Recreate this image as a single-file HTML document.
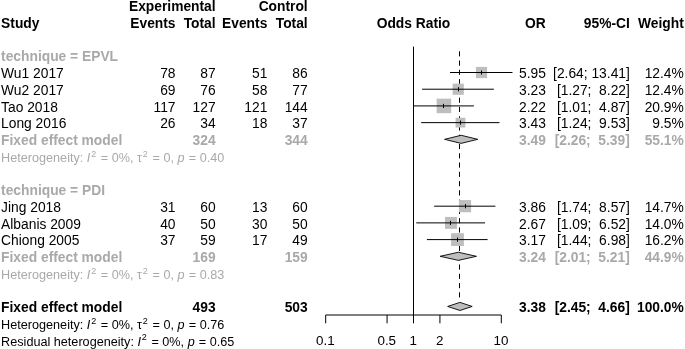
<!DOCTYPE html>
<html><head><meta charset="utf-8"><style>
html,body{margin:0;padding:0;background:#fff;}
body{width:685px;height:349px;position:relative;overflow:hidden;font-family:"Liberation Sans",sans-serif;font-size:13.8px;color:#000;}
.t{position:absolute;white-space:pre;line-height:16.0px;height:16.0px;}
sup{font-size:9px;line-height:0;vertical-align:baseline;position:relative;top:-5.5px;margin:0 1.2px 0 0.8px;}
i.p{margin-right:0.7px;}
svg{position:absolute;left:0;top:0;}
#txt{position:absolute;left:0;top:0;width:685px;height:349px;will-change:transform;}
</style></head><body>
<svg width="685" height="349" viewBox="0 0 685 349">
<line x1="413.5" y1="46.6" x2="413.5" y2="315.0" stroke="#000" stroke-width="1"/>
<line x1="459.5" y1="51.3" x2="459.5" y2="298.5" stroke="#000" stroke-width="1" stroke-dasharray="5.1 4.17"/>
<line x1="325.70" y1="315.0" x2="501.30" y2="315.0" stroke="#000" stroke-width="1"/>
<line x1="325.70" y1="315.0" x2="325.70" y2="323.3" stroke="#000" stroke-width="1"/>
<line x1="387.07" y1="315.0" x2="387.07" y2="323.3" stroke="#000" stroke-width="1"/>
<line x1="413.50" y1="315.0" x2="413.50" y2="323.3" stroke="#000" stroke-width="1"/>
<line x1="439.93" y1="315.0" x2="439.93" y2="323.3" stroke="#000" stroke-width="1"/>
<line x1="501.30" y1="315.0" x2="501.30" y2="323.3" stroke="#000" stroke-width="1"/>
<rect x="475.90" y="66.90" width="11.20" height="11.20" fill="#bebebe"/>
<line x1="450.02" y1="72.50" x2="512.49" y2="72.50" stroke="#000" stroke-width="1"/>
<line x1="481.50" y1="70.40" x2="481.50" y2="74.60" stroke="#000" stroke-width="1"/>
<rect x="452.61" y="83.61" width="11.20" height="11.20" fill="#bebebe"/>
<line x1="422.11" y1="89.21" x2="493.83" y2="89.21" stroke="#000" stroke-width="1"/>
<line x1="458.50" y1="87.11" x2="458.50" y2="91.31" stroke="#000" stroke-width="1"/>
<rect x="436.64" y="98.65" width="14.54" height="14.54" fill="#bebebe"/>
<line x1="413.38" y1="105.92" x2="473.87" y2="105.92" stroke="#000" stroke-width="1"/>
<line x1="443.50" y1="103.82" x2="443.50" y2="108.02" stroke="#000" stroke-width="1"/>
<rect x="455.60" y="117.73" width="9.80" height="9.80" fill="#bebebe"/>
<line x1="421.20" y1="122.63" x2="499.46" y2="122.63" stroke="#000" stroke-width="1"/>
<line x1="460.50" y1="120.53" x2="460.50" y2="124.73" stroke="#000" stroke-width="1"/>
<rect x="458.91" y="200.08" width="12.19" height="12.19" fill="#bebebe"/>
<line x1="434.12" y1="206.18" x2="495.42" y2="206.18" stroke="#000" stroke-width="1"/>
<line x1="465.50" y1="204.08" x2="465.50" y2="208.28" stroke="#000" stroke-width="1"/>
<rect x="445.00" y="216.94" width="11.90" height="11.90" fill="#bebebe"/>
<line x1="416.29" y1="222.89" x2="484.99" y2="222.89" stroke="#000" stroke-width="1"/>
<line x1="450.50" y1="220.79" x2="450.50" y2="224.99" stroke="#000" stroke-width="1"/>
<rect x="451.09" y="233.20" width="12.80" height="12.80" fill="#bebebe"/>
<line x1="426.90" y1="239.60" x2="487.59" y2="239.60" stroke="#000" stroke-width="1"/>
<line x1="457.50" y1="237.50" x2="457.50" y2="241.70" stroke="#000" stroke-width="1"/>
<polygon points="444.59,139.34 461.16,135.29 477.73,139.34 461.16,143.39" fill="#bebebe" stroke="#000" stroke-width="0.9"/>
<polygon points="440.12,256.31 458.33,252.26 476.44,256.31 458.33,260.36" fill="#bebebe" stroke="#000" stroke-width="0.9"/>
<polygon points="447.67,306.44 459.94,302.39 472.18,306.44 459.94,310.49" fill="#bebebe" stroke="#000" stroke-width="0.9"/>
</svg>
<div id="txt">
<div class="t" style="top:-0.68px;right:469.40px;font-weight:bold;">Experimental</div>
<div class="t" style="top:-0.68px;right:377.30px;font-weight:bold;">Control</div>
<div class="t" style="top:16.03px;left:1.10px;font-weight:bold;">Study</div>
<div class="t" style="top:16.03px;right:509.50px;font-weight:bold;">Events</div>
<div class="t" style="top:16.03px;right:469.40px;font-weight:bold;">Total</div>
<div class="t" style="top:16.03px;right:417.70px;font-weight:bold;">Events</div>
<div class="t" style="top:16.03px;right:377.30px;font-weight:bold;">Total</div>
<div class="t" style="top:16.03px;left:263.50px;width:300px;text-align:center;font-weight:bold;">Odds Ratio</div>
<div class="t" style="top:16.03px;right:139.20px;font-weight:bold;">OR</div>
<div class="t" style="top:16.03px;right:55.20px;font-weight:bold;">95%-CI</div>
<div class="t" style="top:16.03px;right:1.20px;font-weight:bold;">Weight</div>
<div class="t" style="top:66.16px;left:1.10px;">Wu1 2017</div>
<div class="t" style="top:66.16px;right:509.50px;">78</div>
<div class="t" style="top:66.16px;right:469.40px;">87</div>
<div class="t" style="top:66.16px;right:417.70px;">51</div>
<div class="t" style="top:66.16px;right:377.30px;">86</div>
<div class="t" style="top:66.16px;right:139.20px;">5.95</div>
<div class="t" style="top:66.16px;right:55.20px;">[2.64; 13.41]</div>
<div class="t" style="top:66.16px;right:1.20px;">12.4%</div>
<div class="t" style="top:82.87px;left:1.10px;">Wu2 2017</div>
<div class="t" style="top:82.87px;right:509.50px;">69</div>
<div class="t" style="top:82.87px;right:469.40px;">76</div>
<div class="t" style="top:82.87px;right:417.70px;">58</div>
<div class="t" style="top:82.87px;right:377.30px;">77</div>
<div class="t" style="top:82.87px;right:139.20px;">3.23</div>
<div class="t" style="top:82.87px;right:55.20px;">[1.27;  8.22]</div>
<div class="t" style="top:82.87px;right:1.20px;">12.4%</div>
<div class="t" style="top:99.58px;left:1.10px;">Tao 2018</div>
<div class="t" style="top:99.58px;right:509.50px;">117</div>
<div class="t" style="top:99.58px;right:469.40px;">127</div>
<div class="t" style="top:99.58px;right:417.70px;">121</div>
<div class="t" style="top:99.58px;right:377.30px;">144</div>
<div class="t" style="top:99.58px;right:139.20px;">2.22</div>
<div class="t" style="top:99.58px;right:55.20px;">[1.01;  4.87]</div>
<div class="t" style="top:99.58px;right:1.20px;">20.9%</div>
<div class="t" style="top:116.29px;left:1.10px;">Long 2016</div>
<div class="t" style="top:116.29px;right:509.50px;">26</div>
<div class="t" style="top:116.29px;right:469.40px;">34</div>
<div class="t" style="top:116.29px;right:417.70px;">18</div>
<div class="t" style="top:116.29px;right:377.30px;">37</div>
<div class="t" style="top:116.29px;right:139.20px;">3.43</div>
<div class="t" style="top:116.29px;right:55.20px;">[1.24;  9.53]</div>
<div class="t" style="top:116.29px;right:1.20px;">9.5%</div>
<div class="t" style="top:199.84px;left:1.10px;">Jing 2018</div>
<div class="t" style="top:199.84px;right:509.50px;">31</div>
<div class="t" style="top:199.84px;right:469.40px;">60</div>
<div class="t" style="top:199.84px;right:417.70px;">13</div>
<div class="t" style="top:199.84px;right:377.30px;">60</div>
<div class="t" style="top:199.84px;right:139.20px;">3.86</div>
<div class="t" style="top:199.84px;right:55.20px;">[1.74;  8.57]</div>
<div class="t" style="top:199.84px;right:1.20px;">14.7%</div>
<div class="t" style="top:216.55px;left:1.10px;">Albanis 2009</div>
<div class="t" style="top:216.55px;right:509.50px;">40</div>
<div class="t" style="top:216.55px;right:469.40px;">50</div>
<div class="t" style="top:216.55px;right:417.70px;">30</div>
<div class="t" style="top:216.55px;right:377.30px;">50</div>
<div class="t" style="top:216.55px;right:139.20px;">2.67</div>
<div class="t" style="top:216.55px;right:55.20px;">[1.09;  6.52]</div>
<div class="t" style="top:216.55px;right:1.20px;">14.0%</div>
<div class="t" style="top:233.26px;left:1.10px;">Chiong 2005</div>
<div class="t" style="top:233.26px;right:509.50px;">37</div>
<div class="t" style="top:233.26px;right:469.40px;">59</div>
<div class="t" style="top:233.26px;right:417.70px;">17</div>
<div class="t" style="top:233.26px;right:377.30px;">49</div>
<div class="t" style="top:233.26px;right:139.20px;">3.17</div>
<div class="t" style="top:233.26px;right:55.20px;">[1.44;  6.98]</div>
<div class="t" style="top:233.26px;right:1.20px;">16.2%</div>
<div class="t" style="top:49.45px;left:1.10px;font-weight:bold;color:#a9a9a9;">technique = EPVL</div>
<div class="t" style="top:183.13px;left:1.10px;font-weight:bold;color:#a9a9a9;">technique = PDI</div>
<div class="t" style="top:133.00px;left:1.10px;font-weight:bold;color:#a9a9a9;">Fixed effect model</div>
<div class="t" style="top:133.00px;right:469.40px;font-weight:bold;color:#a9a9a9;">324</div>
<div class="t" style="top:133.00px;right:377.30px;font-weight:bold;color:#a9a9a9;">344</div>
<div class="t" style="top:133.00px;right:139.20px;font-weight:bold;color:#a9a9a9;">3.49</div>
<div class="t" style="top:133.00px;right:55.20px;font-weight:bold;color:#a9a9a9;">[2.26;  5.39]</div>
<div class="t" style="top:133.00px;right:1.20px;font-weight:bold;color:#a9a9a9;">55.1%</div>
<div class="t" style="top:150.11px;left:1.10px;color:#a9a9a9;font-size:12.65px;">Heterogeneity: <i>I</i><sup>2</sup> = 0%, &tau;<sup>2</sup> = 0, <i class="p">p</i> = 0.40</div>
<div class="t" style="top:249.97px;left:1.10px;font-weight:bold;color:#a9a9a9;">Fixed effect model</div>
<div class="t" style="top:249.97px;right:469.40px;font-weight:bold;color:#a9a9a9;">169</div>
<div class="t" style="top:249.97px;right:377.30px;font-weight:bold;color:#a9a9a9;">159</div>
<div class="t" style="top:249.97px;right:139.20px;font-weight:bold;color:#a9a9a9;">3.24</div>
<div class="t" style="top:249.97px;right:55.20px;font-weight:bold;color:#a9a9a9;">[2.01;  5.21]</div>
<div class="t" style="top:249.97px;right:1.20px;font-weight:bold;color:#a9a9a9;">44.9%</div>
<div class="t" style="top:267.08px;left:1.10px;color:#a9a9a9;font-size:12.65px;">Heterogeneity: <i>I</i><sup>2</sup> = 0%, &tau;<sup>2</sup> = 0, <i class="p">p</i> = 0.83</div>
<div class="t" style="top:300.10px;left:1.10px;font-weight:bold;">Fixed effect model</div>
<div class="t" style="top:300.10px;right:469.40px;font-weight:bold;">493</div>
<div class="t" style="top:300.10px;right:377.30px;font-weight:bold;">503</div>
<div class="t" style="top:300.10px;right:139.20px;font-weight:bold;">3.38</div>
<div class="t" style="top:300.10px;right:55.20px;font-weight:bold;">[2.45;  4.66]</div>
<div class="t" style="top:300.10px;right:1.20px;font-weight:bold;">100.0%</div>
<div class="t" style="top:317.21px;left:1.10px;font-size:12.65px;">Heterogeneity: <i>I</i><sup>2</sup> = 0%, &tau;<sup>2</sup> = 0, <i class="p">p</i> = 0.76</div>
<div class="t" style="top:333.92px;left:1.10px;font-size:12.65px;">Residual heterogeneity: <i>I</i><sup>2</sup> = 0%, <i class="p">p</i> = 0.65</div>
<div class="t" style="top:333.16px;left:275.40px;width:100px;text-align:center;font-size:13.4px;">0.1</div>
<div class="t" style="top:333.16px;left:336.77px;width:100px;text-align:center;font-size:13.4px;">0.5</div>
<div class="t" style="top:333.16px;left:363.20px;width:100px;text-align:center;font-size:13.4px;">1</div>
<div class="t" style="top:333.16px;left:389.63px;width:100px;text-align:center;font-size:13.4px;">2</div>
<div class="t" style="top:333.16px;left:451.00px;width:100px;text-align:center;font-size:13.4px;">10</div>
</div>
</body></html>
